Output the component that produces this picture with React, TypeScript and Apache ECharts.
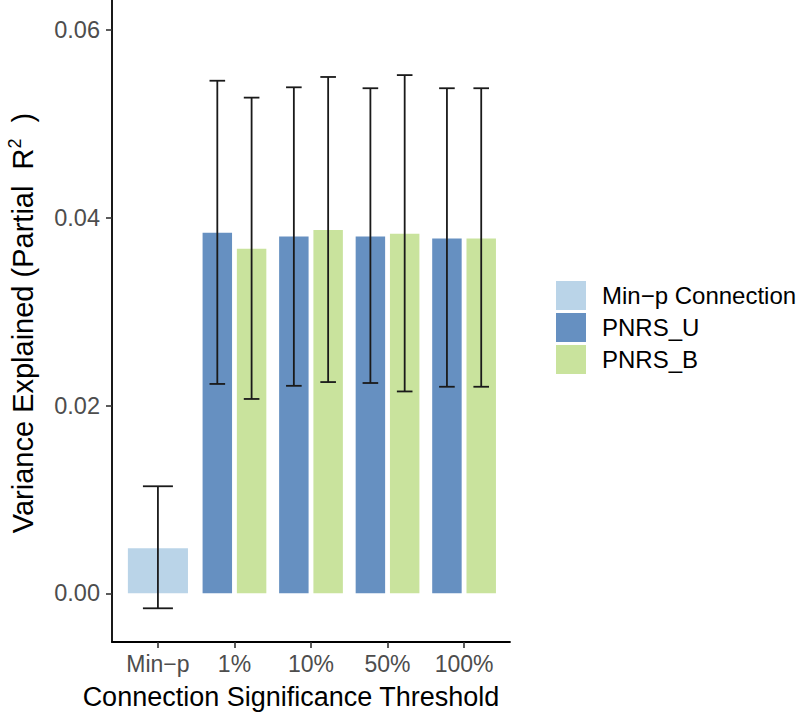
import React, { useEffect, useRef } from "react";
import * as echarts from "echarts";

const categories = ["Min\u2212p", "1%", "10%", "50%", "100%"];
const seriesNames = ["Min\u2212p Connection", "PNRS_U", "PNRS_B"];
const colors = ["#bad4e8", "#6690c1", "#c9e39d"];

// Min-p (category 0)
const minPValue = [0.0048];
const minPLower = [-0.0016];
const minPUpper = [0.0114];

// PNRS_U and PNRS_B for 1%, 10%, 50%, 100%
const pnrsUValue = [0.0384, 0.038, 0.038, 0.0378];
const pnrsULower = [0.0223, 0.0221, 0.0224, 0.022];
const pnrsUUpper = [0.0546, 0.0539, 0.0538, 0.0538];

const pnrsBValue = [0.0367, 0.0387, 0.0383, 0.0378];
const pnrsBLower = [0.0207, 0.0225, 0.0215, 0.022];
const pnrsBUpper = [0.0528, 0.055, 0.0552, 0.0538];

const yTicks = [0, 0.02, 0.04, 0.06];
const xTicks = [0, 1, 2, 3, 4];

const FONT = "'Liberation Sans', Arial, Helvetica, sans-serif";
const DODGE = 0.224;
const SINGLE_W = 0.785;
const DODGE_W = 0.385;

function barSeries(name: string, color: string, data: number[][], width: number, shift: number) {
  return {
    type: "custom",
    name,
    itemStyle: { color },
    encode: { x: 0, y: 1 },
    data,
    z: 2,
    renderItem: (params: any, api: any) => {
      const x = api.value(0) + shift;
      const v = api.value(1);
      const p0 = api.coord([x - width / 2, 0]);
      const p1 = api.coord([x + width / 2, v]);
      return {
        type: "rect",
        shape: { x: p0[0], y: Math.min(p0[1], p1[1]), width: p1[0] - p0[0], height: Math.abs(p0[1] - p1[1]) },
        style: { fill: color },
      };
    },
  };
}

function errSeries(data: number[][], half: number, shift: number) {
  return {
    type: "custom",
    encode: { x: 0, y: [1, 2] },
    data,
    z: 5,
    silent: true,
    renderItem: (params: any, api: any) => {
      const x = api.value(0) + shift;
      const lo = api.value(1);
      const hi = api.value(2);
      const top = api.coord([x, hi]);
      const bot = api.coord([x, lo]);
      const l = api.coord([x - half, hi])[0];
      const r = api.coord([x + half, hi])[0];
      const st = { stroke: "#1a1a1a", lineWidth: 1.8 };
      return {
        type: "group",
        children: [
          { type: "line", shape: { x1: top[0], y1: top[1], x2: bot[0], y2: bot[1] }, style: st },
          { type: "line", shape: { x1: l, y1: top[1], x2: r, y2: top[1] }, style: st },
          { type: "line", shape: { x1: l, y1: bot[1], x2: r, y2: bot[1] }, style: st },
        ],
      };
    },
  };
}

export default function App() {
  const ref = useRef<HTMLDivElement>(null);
  useEffect(() => {
    if (!ref.current) return;
    const chart = echarts.init(ref.current, null, { renderer: "svg" });
    const minPData = minPValue.map((v) => [0, v]);
    const uData = pnrsUValue.map((v, i) => [i + 1, v]);
    const bData = pnrsBValue.map((v, i) => [i + 1, v]);
    const minPErr = minPValue.map((_, i) => [0, minPLower[i], minPUpper[i]]);
    const uErr = pnrsUValue.map((_, i) => [i + 1, pnrsULower[i], pnrsUUpper[i]]);
    const bErr = pnrsBValue.map((_, i) => [i + 1, pnrsBLower[i], pnrsBUpper[i]]);

    chart.setOption({
      animation: false,
      backgroundColor: "#ffffff",
      textStyle: { fontFamily: FONT },
      grid: { left: 112, right: 290, top: 0, bottom: 74, outerBoundsMode: "none" },
      xAxis: {
        type: "value",
        min: -0.6,
        max: 4.6,
        splitLine: { show: false },
        axisLine: { show: true, onZero: false, lineStyle: { color: "#000", width: 1.8 } },
        axisTick: { show: true, customValues: xTicks, length: 6, lineStyle: { color: "#333", width: 1.6 } },
        axisLabel: {
          customValues: xTicks,
          formatter: (v: number) => categories[Math.round(v)],
          fontSize: 23,
          color: "#4d4d4d",
          margin: 10,
          fontFamily: FONT,
        },
      },
      yAxis: {
        type: "value",
        min: -0.00519,
        max: 0.0632,
        splitLine: { show: false },
        axisLine: { show: true, onZero: false, lineStyle: { color: "#000", width: 1.8 } },
        axisTick: { show: true, customValues: yTicks, length: 6, lineStyle: { color: "#333", width: 1.6 } },
        axisLabel: {
          customValues: yTicks,
          formatter: (v: number) => v.toFixed(2),
          fontSize: 23.5,
          color: "#4d4d4d",
          margin: 12,
          fontFamily: FONT,
        },
      },
      legend: {
        orient: "vertical",
        left: 556,
        top: 281,
        padding: 0,
        itemGap: 3,
        itemWidth: 30,
        itemHeight: 29,
        icon: "rect",
        data: seriesNames,
        textStyle: { fontSize: 24, color: "#000", fontFamily: FONT, padding: [0, 0, 0, 11] },
      },
      graphic: [
        {
          type: "text",
          x: 291,
          y: 697,
          style: {
            text: "Connection Significance Threshold",
            fontSize: 27,
            fill: "#000",
            fontFamily: FONT,
            align: "center",
            verticalAlign: "middle",
          },
        },
        {
          type: "text",
          x: 23,
          y: 323,
          rotation: Math.PI / 2,
          style: {
            text: "Variance Explained (Partial  R{sup|2}  )",
            fontSize: 29,
            lineHeight: 34,
            fill: "#000",
            fontFamily: FONT,
            align: "center",
            verticalAlign: "middle",
            rich: {
              sup: { fontSize: 18, lineHeight: 18, verticalAlign: "top", fill: "#000", fontFamily: FONT },
            },
          },
        },
      ],
      series: [
        barSeries(seriesNames[0], colors[0], minPData, SINGLE_W, 0),
        barSeries(seriesNames[1], colors[1], uData, DODGE_W, -DODGE),
        barSeries(seriesNames[2], colors[2], bData, DODGE_W, DODGE),
        errSeries(minPErr, 0.196, 0),
        errSeries(uErr, 0.102, -DODGE),
        errSeries(bErr, 0.102, DODGE),
      ],
    });
    return () => chart.dispose();
  }, []);
  return <div ref={ref} style={{ position: "fixed", left: 0, top: 0, width: 800, height: 716 }} />;
}
